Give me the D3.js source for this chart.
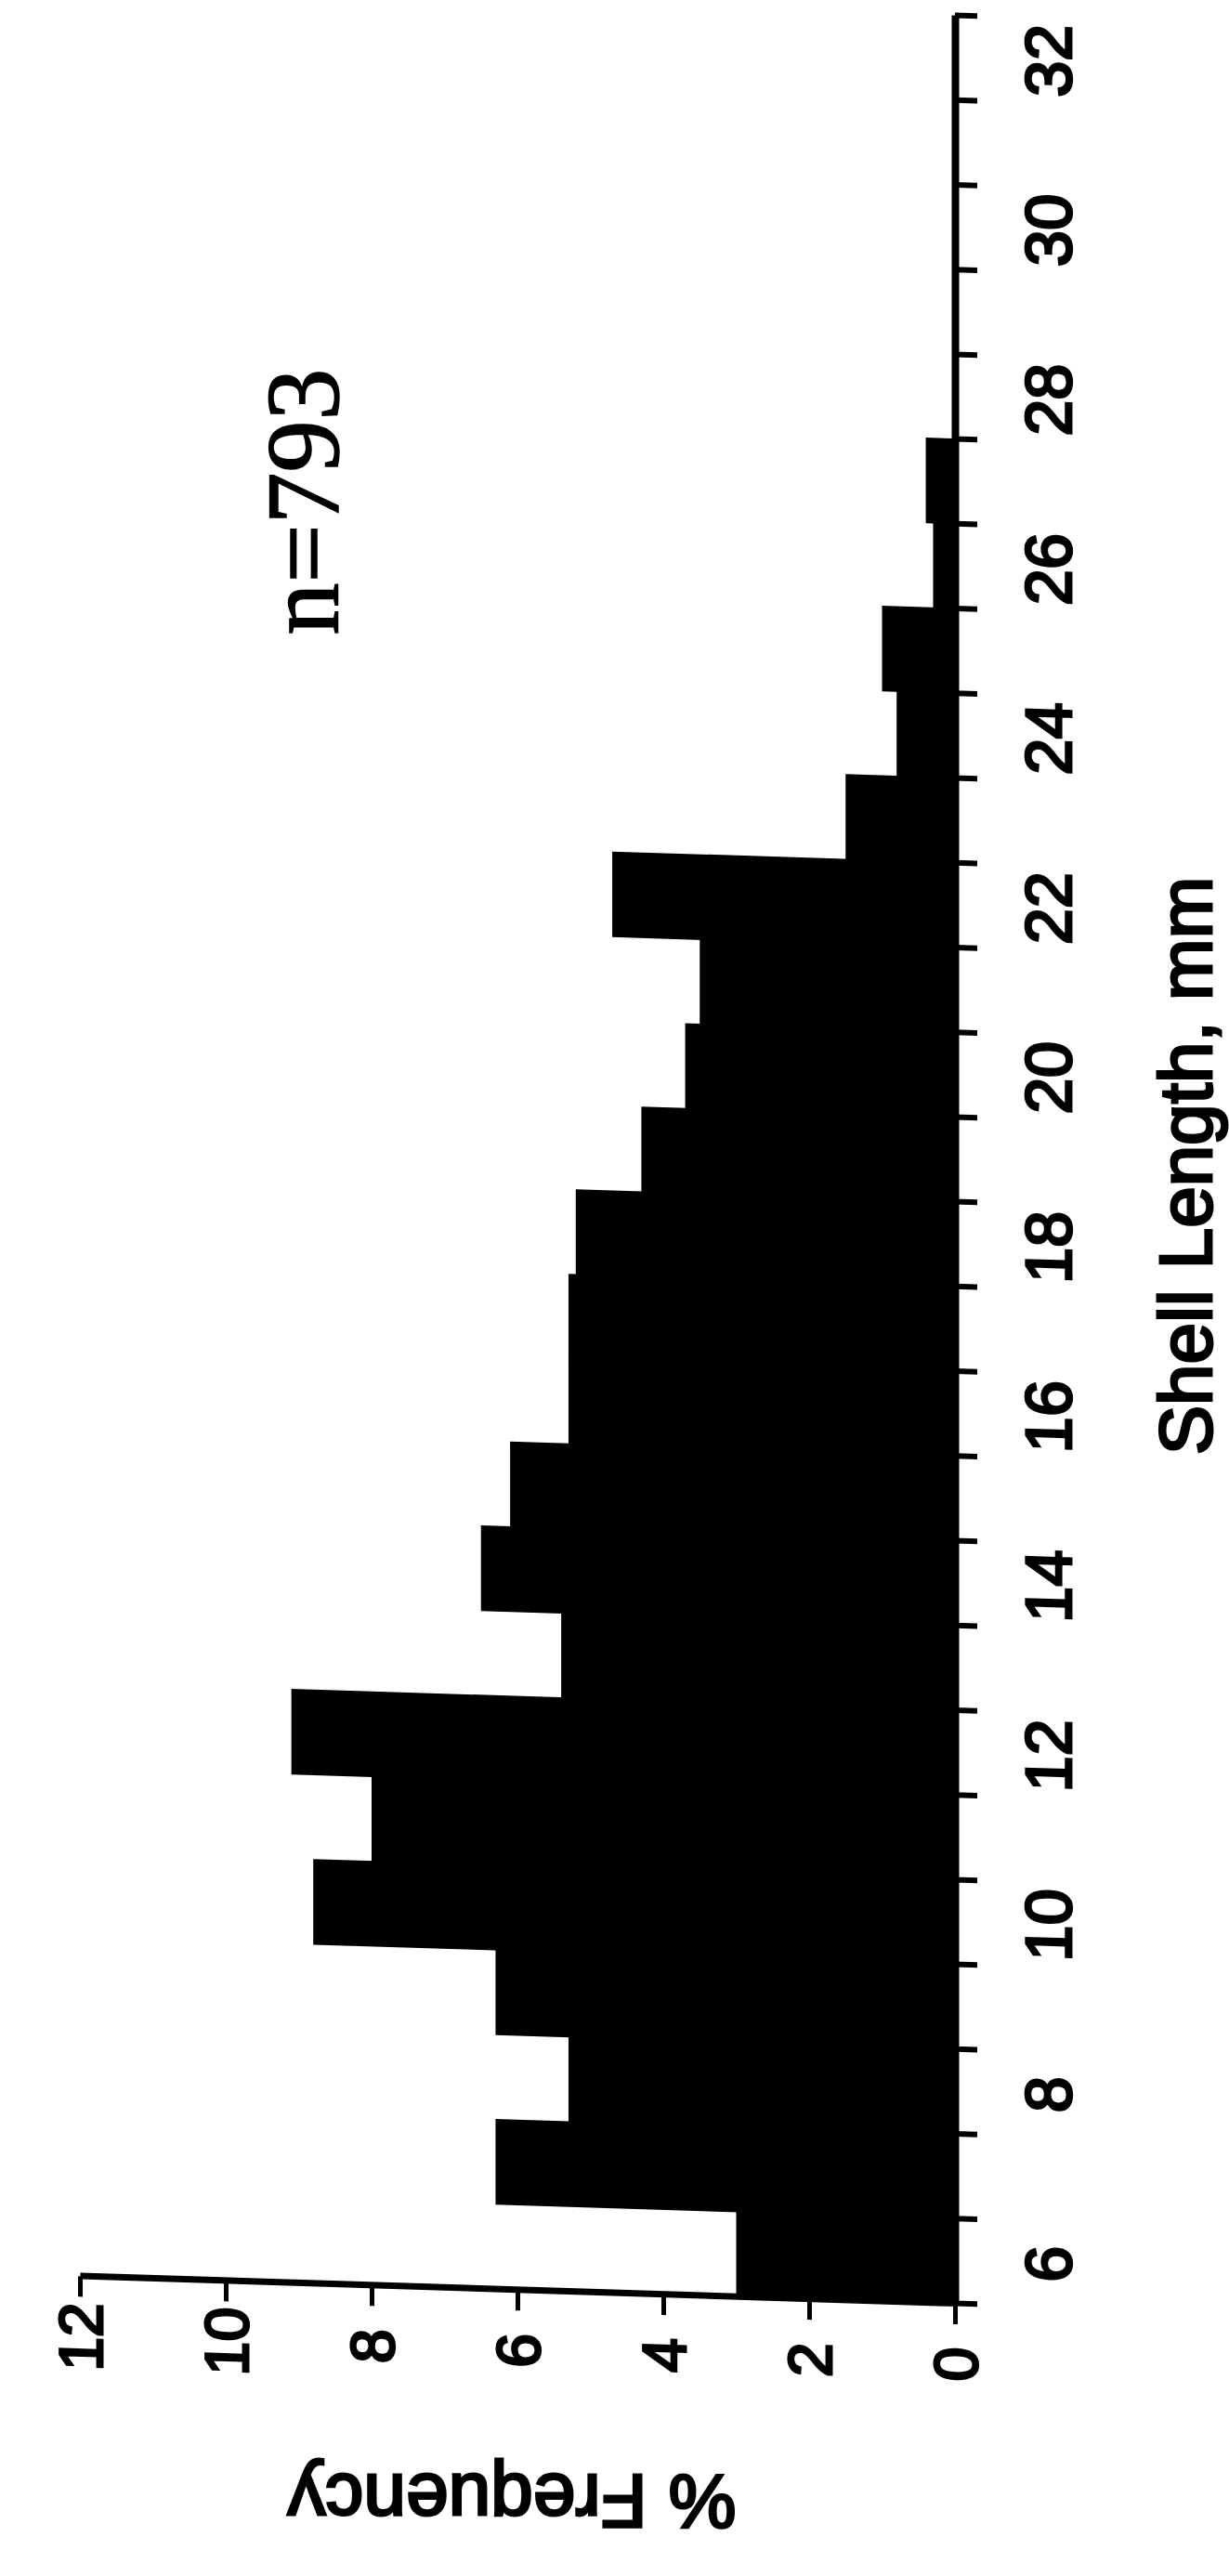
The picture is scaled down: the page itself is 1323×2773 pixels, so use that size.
<!DOCTYPE html>
<html>
<head>
<meta charset="utf-8">
<script src="https://cdn.jsdelivr.net/npm/d3@7"></script>
<style>
  html, body { margin: 0; padding: 0; background: #fff; }
  text { fill: #000; }
</style>
</head>
<body>
<figure id="chart" style="margin:0"></figure>
<script>
// shell length bins (mm, bin centres) and % frequency per bin
const bins = [6, 7, 8, 9, 10, 11, 12, 13, 14, 15, 16, 17, 18, 19, 20, 21, 22, 23, 24, 25, 26, 27];
const freq = [3.0, 6.3, 5.3, 6.3, 8.8, 8.0, 9.1, 5.4, 6.5, 6.1, 5.3, 5.3, 5.2, 4.3, 3.7, 3.5, 4.7, 1.5, 0.8, 1.0, 0.3, 0.4];
const lengthTicks = [6, 8, 10, 12, 14, 16, 18, 20, 22, 24, 26, 28, 30, 32];
const freqTicks = [0, 2, 4, 6, 8, 10, 12];
const lengthDomain = [5.5, 32.5];
const freqDomain = [0, 12];

const width = 1323, height = 2773;
// the chart is printed turned a quarter turn: length runs up the page, frequency to the left
const baseX = 1028, baseY = 2480, topY = 17;
const W = baseY - topY;
const H = 942;
const sansFont = '"Liberation Sans", Arial, sans-serif';

const svg = d3.select('figure#chart')
  .append('svg')
  .attr('width', width)
  .attr('height', height)
  .style('background', '#fff');

const x = d3.scaleLinear().domain(lengthDomain).range([0, W]);
const y = d3.scaleLinear().domain(freqDomain).range([H, 0]);

// slight shear of the scanned figure
const shear = svg.append('g')
  .attr('transform', `translate(${baseX},0) skewY(1.8) translate(${-baseX},0)`);

const plot = shear.append('g')
  .attr('transform', `translate(${baseX - H},${baseY}) rotate(-90)`);

plot.append('g')
  .selectAll('rect')
  .data(freq)
  .join('rect')
  .attr('x', (d, i) => x(bins[i] - 0.5))
  .attr('width', (d, i) => x(bins[i] + 0.5) - x(bins[i] - 0.5) + 1)
  .attr('y', d => y(d))
  .attr('height', d => H - y(d))
  .attr('fill', '#000');

// length axis: ticks on bin edges
const xTicks = plot.append('g')
  .attr('transform', `translate(0,${H})`)
  .call(d3.axisBottom(x)
    .tickValues(d3.range(lengthDomain[0], lengthDomain[1] + 0.01, 1))
    .tickSize(24)
    .tickSizeOuter(0)
    .tickFormat(''));
xTicks.select('.domain').attr('stroke', '#000').attr('stroke-width', 8);
xTicks.selectAll('.tick line').attr('stroke', '#000').attr('stroke-width', 6);

// length labels at bin centres
const xLabels = plot.append('g')
  .attr('transform', `translate(0,${H})`)
  .call(d3.axisBottom(x).tickValues(lengthTicks).tickSize(0).tickFormat(d3.format('d')));
xLabels.select('.domain').remove();
xLabels.selectAll('text')
  .attr('y', 100)
  .attr('dy', '0.36em')
  .attr('font-family', sansFont)
  .attr('font-size', 70)
  .attr('fill', '#000')
  .attr('stroke', '#000')
  .attr('stroke-width', 3);

// frequency axis
const yAxis = plot.append('g')
  .call(d3.axisLeft(y).tickValues(freqTicks).tickSize(22).tickSizeOuter(0));
yAxis.select('.domain').attr('stroke', '#000').attr('stroke-width', 7);
yAxis.selectAll('.tick line').attr('stroke', '#000').attr('stroke-width', 5);
yAxis.selectAll('text')
  .attr('x', -65)
  .attr('dy', '0.36em')
  .attr('text-anchor', 'middle')
  .attr('font-family', sansFont)
  .attr('font-size', 66)
  .attr('fill', '#000')
  .attr('stroke', '#000')
  .attr('stroke-width', 3);

// titles
svg.append('text')
  .attr('transform', 'translate(1275,1255) rotate(-90)')
  .attr('text-anchor', 'middle')
  .attr('dy', '0.36em')
  .attr('font-family', sansFont)
  .attr('font-size', 80)
  .attr('stroke', '#000')
  .attr('stroke-width', 3)
  .text('Shell Length, mm');

svg.append('text')
  .attr('transform', 'translate(551,2694) rotate(180)')
  .attr('text-anchor', 'middle')
  .attr('dy', '0.36em')
  .attr('font-family', sansFont)
  .attr('font-size', 82)
  .attr('stroke', '#000')
  .attr('stroke-width', 3)
  .text('% Frequency');

svg.append('text')
  .attr('transform', 'translate(364,540) rotate(-90)')
  .attr('text-anchor', 'middle')
  .attr('font-family', '"Liberation Serif", "Times New Roman", serif')
  .attr('font-size', 112)
  .attr('stroke', '#000')
  .attr('stroke-width', 1.5)
  .text('n=793');
</script>
</body>
</html>
